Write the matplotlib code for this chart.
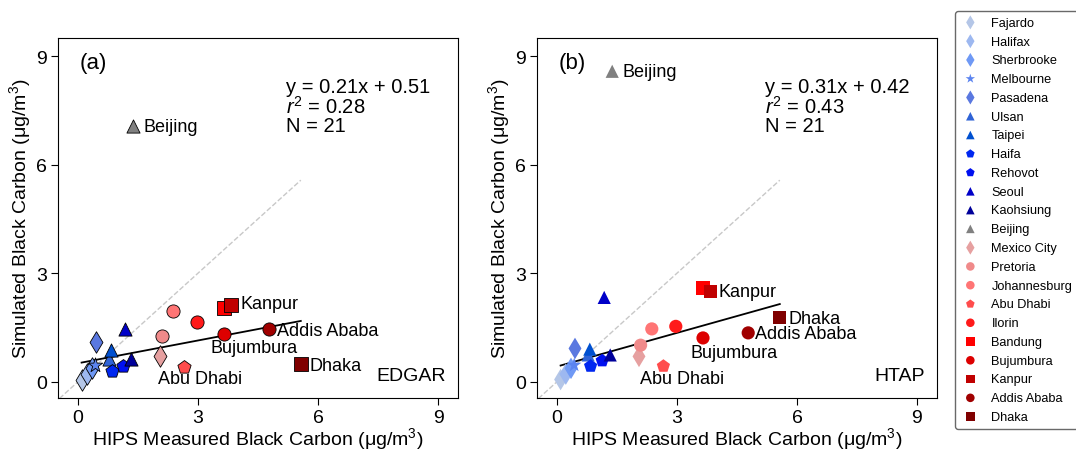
import matplotlib
matplotlib.use("Agg")
import matplotlib.pyplot as plt
import numpy as np

plt.rcParams['font.family'] = ['Liberation Sans', 'DejaVu Sans']
plt.rcParams['mathtext.fontset'] = 'custom'
plt.rcParams['mathtext.rm'] = 'Liberation Sans'
plt.rcParams['mathtext.it'] = 'Liberation Sans:italic'

# sites, in legend order
sites = ["Fajardo", "Halifax", "Sherbrooke", "Melbourne", "Pasadena", "Ulsan",
         "Taipei", "Haifa", "Rehovot", "Seoul", "Kaohsiung", "Beijing",
         "Mexico City", "Pretoria", "Johannesburg", "Abu Dhabi", "Ilorin",
         "Bandung", "Bujumbura", "Kanpur", "Addis Ababa", "Dhaka"]
markers = ["d", "d", "d", "*", "d", "^", "^", "p", "p", "^", "^", "^",
           "d", "o", "o", "p", "o", "s", "o", "s", "o", "s"]
colors = ["#b4c6e7", "#9db8f0", "#6f99f5", "#5b84f0", "#5a78e0", "#2f63d6",
          "#0050d0", "#0027f0", "#0010f0", "#0000c8", "#00009a", "#808080",
          "#e6a0a0", "#f08a8a", "#ff7575", "#ff4c4c", "#ff1a1a", "#ff0000",
          "#dd0000", "#c00000", "#a00000", "#800000"]

# HIPS measured BC (same for both panels)
hips = [0.09, 0.22, 0.35, 0.43, 0.45, 0.78, 0.82, 0.84, 1.13, 1.18, 1.33, 1.38,
        2.05, 2.09, 2.37, 2.66, 2.97, 3.65, 3.65, 3.83, 4.78, 5.57]
# simulated BC
edgar = [0.06, 0.22, 0.38, 0.45, 1.10, 0.63, 0.88, 0.30, 0.44, 1.47, 0.63, 7.06,
         0.72, 1.25, 1.96, 0.40, 1.64, 2.03, 1.32, 2.13, 1.46, 0.49]
htap = [0.06, 0.21, 0.37, 0.46, 0.92, 0.74, 0.90, 0.43, 0.58, 2.33, 0.74, 8.58,
        0.70, 1.01, 1.46, 0.43, 1.53, 2.59, 1.21, 2.49, 1.35, 1.78]

fits = {"EDGAR": (0.21, 0.51, 0.28, 21), "HTAP": (0.31, 0.42, 0.43, 21)}

# labelled sites: name -> text position for each panel
labels_a = {"Beijing": (1.63, 7.06), "Kanpur": (4.05, 2.15), "Addis Ababa": (4.98, 1.42),
            "Bujumbura": (3.3, 0.95), "Dhaka": (5.78, 0.46), "Abu Dhabi": (2.0, 0.1)}
labels_b = {"Beijing": (1.63, 8.58), "Kanpur": (4.03, 2.48), "Dhaka": (5.78, 1.75),
            "Addis Ababa": (4.95, 1.32), "Bujumbura": (3.33, 0.82), "Abu Dhabi": (2.08, 0.1)}

fig = plt.figure(figsize=(10.76, 4.52), dpi=100)
ax_a = fig.add_axes([58 / 1076, 53 / 452, 400 / 1076, 360 / 452])
ax_b = fig.add_axes([537 / 1076, 53 / 452, 400 / 1076, 360 / 452])

panels = [(ax_a, edgar, "EDGAR", "(a)", labels_a), (ax_b, htap, "HTAP", "(b)", labels_b)]

for ax, sim, name, tag, labels in panels:
    xmax = max(hips)
    ax.plot([-0.6, xmax], [-0.6, xmax], color="#c8c8c8", ls="--", lw=1, zorder=1)
    slope, icpt, r2, n = fits[name]
    xx = np.array([min(hips), xmax])
    ax.plot(xx, slope * xx + icpt, color="black", lw=1.3, zorder=2)
    for i, s in enumerate(sites):
        size = 120 if markers[i] in ("d", "*") else 90
        if markers[i] == "p":
            size = 100
        ax.scatter(hips[i], sim[i], marker=markers[i], s=size, c=colors[i],
                   edgecolors="black", linewidths=0.6, zorder=3, label=s)
    for s, (tx, ty) in labels.items():
        ax.text(tx, ty, s, fontsize=13, va="center", ha="left")
    ax.text(5.2, 7.62, "y = %.2fx + %.2f\n$r^2$ = %.2f\nN = %d" % (slope, icpt, r2, n),
            fontsize=14.5, va="center", ha="left", linespacing=0.95)
    ax.text(0.055, 0.96, tag, transform=ax.transAxes, fontsize=16, va="top")
    ax.text(0.97, 0.04, name, transform=ax.transAxes, fontsize=14, ha="right", va="bottom")
    ax.set_xlim(-0.5, 9.5)
    ax.set_ylim(-0.45, 9.5)
    ax.set_xticks([0, 3, 6, 9])
    ax.set_yticks([0, 3, 6, 9])
    ax.tick_params(labelsize=14, direction="out", length=5, pad=3)
    ax.set_xlabel("HIPS Measured Black Carbon (μg/m$^3$)", fontsize=14, labelpad=-1)
    ax.set_ylabel("Simulated Black Carbon (μg/m$^3$)", fontsize=14, labelpad=2)

handles, lbls = ax_b.get_legend_handles_labels()
for h in handles:
    h.set_edgecolor("none")
leg = fig.legend(handles, lbls, loc="upper left", bbox_to_anchor=(955 / 1076, 1 - 12 / 452),
                 fontsize=9.2, markerscale=0.65, frameon=True, labelspacing=0.53,
                 handlelength=1.5, handletextpad=0.9, borderpad=0.45, fancybox=True,
                 borderaxespad=0)
leg.get_frame().set_edgecolor("#444444")

fig.savefig("out.png", dpi=100)
